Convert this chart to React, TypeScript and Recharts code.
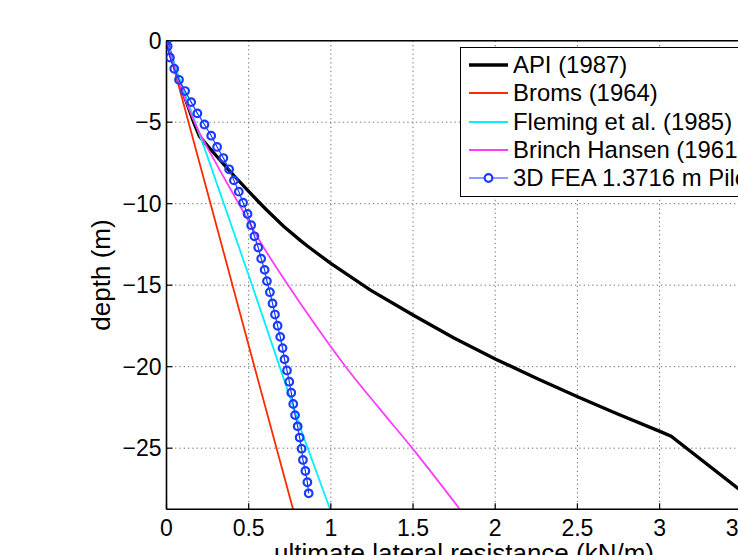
import { CartesianGrid, Line, LineChart, XAxis, YAxis } from 'recharts';

// depth (m) / ultimate lateral resistance (kN/m)
const apiDepth = [0, -1, -2, -3, -4, -5, -5.85, -6.45, -7.03, -7.6, -8.24, -9.25, -9.88, -10.4, -11.38, -12.25, -12.58, -13.65, -15.3, -16.86, -18.24, -19.54, -20.74, -21.85, -22.9, -24.0, -24.26, -28.6];
const apiRes = [0, 0.03, 0.06, 0.095, 0.13, 0.165, 0.2, 0.25, 0.3, 0.35, 0.407, 0.5, 0.56, 0.611, 0.712, 0.814, 0.855, 0.997, 1.241, 1.505, 1.749, 2.003, 2.257, 2.501, 2.745, 3.009, 3.07, 3.62];

const bromsDepth = [0, -10, -20, -28.75];
const bromsRes = [0, 0.268, 0.535, 0.77];

const flemingDepth = [0, -2.4, -6.7, -14.65, -21.33, -24.3, -28.75];
const flemingRes = [0, 0.08, 0.235, 0.509, 0.733, 0.834, 0.995];

const hansenDepth = [0, -2.5, -5, -7.5, -10, -12.5, -15, -17.5, -20, -22.5, -25, -28.75];
const hansenRes = [0, 0.075, 0.17, 0.3, 0.44, 0.58, 0.74, 0.91, 1.09, 1.29, 1.495, 1.785];

const feaDepth = [0, -0.34, -1.03, -1.72, -2.40, -3.09, -3.77, -4.46, -5.14, -5.83, -6.52, -7.20, -7.89, -8.57, -9.26, -9.94, -10.63, -11.32, -12.00, -12.69, -13.37, -14.06, -14.75, -15.43, -16.12, -16.80, -17.49, -18.17, -18.86, -19.55, -20.23, -20.92, -21.60, -22.29, -22.97, -23.66, -24.35, -25.03, -25.72, -26.40, -27.09, -27.77];
const feaRes = [0, 0.007, 0.021, 0.047, 0.076, 0.113, 0.150, 0.188, 0.231, 0.272, 0.308, 0.346, 0.381, 0.410, 0.440, 0.466, 0.493, 0.515, 0.535, 0.558, 0.576, 0.597, 0.611, 0.629, 0.645, 0.660, 0.676, 0.692, 0.706, 0.718, 0.733, 0.747, 0.759, 0.771, 0.782, 0.798, 0.810, 0.822, 0.830, 0.845, 0.857, 0.865];

const xTicks = [0, 0.5, 1, 1.5, 2, 2.5, 3, 3.5];
const yTicks = [-25, -20, -15, -10, -5, 0];

const series = [
  { name: 'API (1987)', color: '#000000', width: 3.3 },
  { name: 'Broms (1964)', color: '#ff2a00', width: 1.8 },
  { name: 'Fleming et al. (1985)', color: '#00f0ff', width: 1.8 },
  { name: 'Brinch Hansen (1961)', color: '#ff3cff', width: 1.8 },
  { name: '3D FEA 1.3716 m Pile', color: '#1a3cff', width: 1.2 },
];

const pts = (xs: number[], ys: number[]) => xs.map((x, i) => ({ x, y: ys[i] }));
const fmt = (v: number) => (v < 0 ? `\u2212${Math.abs(v)}` : String(v));
const font = '"Liberation Sans", Arial, sans-serif';
const tick = { fontSize: 23, fill: '#000', fontFamily: font };

function LegendBox() {
  return (
    <div style={{
      position: 'absolute', left: 460, top: 47, width: 318, height: 145, border: '1.6px solid #000',
      background: '#fff', fontFamily: font, fontSize: 23.9, paddingTop: 3,
    }}>
      {series.map((s, i) => (
        <div key={i} style={{ height: 28.3, display: 'flex', alignItems: 'center', whiteSpace: 'nowrap' }}>
          <svg width={52} height={20} style={{ flex: 'none' }}>
            <line x1={8} x2={47} y1={10} y2={10} stroke={s.color} strokeWidth={s.width} />
            {i === 4 && <circle cx={27.5} cy={10} r={3.8} fill="#fff" stroke={s.color} strokeWidth={2.2} />}
          </svg>
          <span style={{ lineHeight: 1 }}>{s.name}</span>
        </div>
      ))}
    </div>
  );
}

export default function App() {
  const lines = [
    pts(apiRes, apiDepth), pts(bromsRes, bromsDepth), pts(flemingRes, flemingDepth),
    pts(hansenRes, hansenDepth), pts(feaRes, feaDepth),
  ];
  return (
    <div style={{ position: 'absolute', left: 0, top: 0, width: 738, height: 555, overflow: 'hidden', background: '#fff' }}>
      <div style={{ position: 'relative', width: 800, height: 555, fontFamily: font }}>
        <LineChart width={800} height={555} margin={{ top: 30.7, right: 38.5, bottom: 0, left: 35.5 }}>
          <CartesianGrid stroke="#6e6e6e" strokeDasharray="1.3 3" />
          <XAxis
            type="number" dataKey="x" domain={[0, 3.62]} ticks={xTicks} allowDataOverflow
            height={45.7} tickSize={-6} tickMargin={16.7} tick={tick}
            axisLine={{ stroke: '#000', strokeWidth: 1.6 }} tickLine={{ stroke: '#000', strokeWidth: 1.2 }}
            label={{ value: 'ultimate lateral resistance (kN/m)', position: 'insideBottom', offset: -7, fontSize: 26, fill: '#000', fontFamily: font }}
          />
          <XAxis
            xAxisId="top" orientation="top" type="number" dataKey="x" domain={[0, 3.62]} ticks={xTicks} allowDataOverflow
            height={10} tickSize={-6} tick={false}
            axisLine={{ stroke: '#000', strokeWidth: 1.6 }} tickLine={{ stroke: '#000', strokeWidth: 1.2 }}
          />
          <YAxis
            type="number" dataKey="y" domain={[-28.75, 0]} ticks={yTicks} allowDataOverflow
            width={131} tickSize={-6} tickMargin={11} tick={tick} tickFormatter={fmt}
            axisLine={{ stroke: '#000', strokeWidth: 1.6 }} tickLine={{ stroke: '#000', strokeWidth: 1.2 }}
            label={{ value: 'depth (m)', angle: -90, position: 'center', fontSize: 26, fill: '#000', fontFamily: font }}
          />
          {lines.map((d, i) => (
            <Line
              key={i} data={d} dataKey="y" type={i === 3 ? 'monotone' : 'linear'}
              stroke={series[i].color} strokeWidth={series[i].width}
              dot={i === 4 ? { r: 3.8, fill: 'none', stroke: series[i].color, strokeWidth: 2.2 } : false}
              activeDot={false} isAnimationActive={false}
            />
          ))}
        </LineChart>
        <LegendBox />
      </div>
    </div>
  );
}
